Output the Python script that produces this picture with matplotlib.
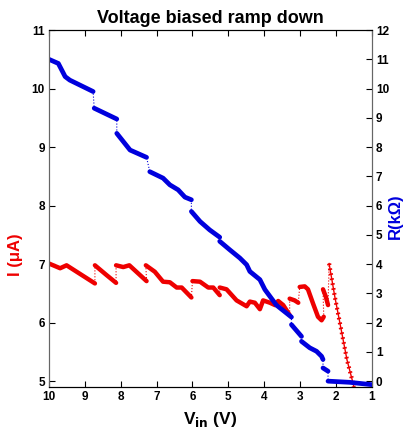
import numpy as np
import matplotlib
matplotlib.use("Agg")
import matplotlib.pyplot as plt

plt.rcParams['font.family'] = ['Liberation Sans', 'DejaVu Sans']
plt.rcParams['font.weight'] = 'bold'

# current (left axis), segment starts in red_breaks
red_v = [10.0, 9.69, 9.51, 9.23, 9.0, 8.72,
         8.72, 8.39, 8.13,
         8.13, 7.93, 7.76, 7.28,
         7.30, 7.05, 6.82, 6.63, 6.44, 6.30, 6.03,
         6.00, 5.79, 5.56, 5.42, 5.24,
         5.24, 5.05, 4.77, 4.49, 4.40, 4.26, 4.12, 4.03, 3.84, 3.70, 3.61, 3.47, 3.29,
         3.29, 3.15, 3.05,
         3.01, 2.87, 2.78, 2.64, 2.50, 2.40, 2.34,
         2.36, 2.28, 2.22]
red_i = [7.01, 6.93, 6.98, 6.87, 6.78, 6.67,
         6.98, 6.81, 6.68,
         6.98, 6.95, 6.98, 6.71,
         6.98, 6.87, 6.70, 6.69, 6.60, 6.60, 6.43,
         6.71, 6.70, 6.60, 6.60, 6.47,
         6.60, 6.57, 6.38, 6.28, 6.36, 6.34, 6.23, 6.38, 6.34, 6.30, 6.37, 6.30, 6.13,
         6.41, 6.38, 6.34,
         6.61, 6.62, 6.57, 6.33, 6.10, 6.04, 6.10,
         6.57, 6.44, 6.30]
red_breaks = [6, 9, 13, 20, 25, 38, 41, 48]

# last steep branch of the current
drop_v = [2.19, 2.03, 1.85, 1.69, 1.52, 1.50]
drop_i = [7.01, 6.44, 5.87, 5.36, 4.96, 4.90]

# resistance (right axis)
blue_v = [10.0, 9.74, 9.55, 9.42, 8.77,
          8.74, 8.11,
          8.11, 7.74, 7.28,
          7.19, 6.82, 6.63, 6.40, 6.21, 6.03,
          6.03, 5.79, 5.52, 5.24,
          5.24, 4.96, 4.68, 4.49, 4.40, 4.12, 3.98, 3.66, 3.24,
          3.24, 2.96,
          2.96, 2.73, 2.54, 2.40, 2.36,
          2.36, 2.22,
          2.22, 1.62, 1.00]
blue_r = [11.0, 10.86, 10.41, 10.29, 9.90,
          9.33, 8.96,
          8.47, 7.90, 7.65,
          7.16, 6.94, 6.71, 6.54, 6.29, 6.20,
          5.80, 5.46, 5.17, 4.92,
          4.78, 4.49, 4.21, 3.98, 3.75, 3.47, 3.13, 2.60, 2.19,
          1.93, 1.53,
          1.36, 1.14, 1.02, 0.85, 0.74,
          0.45, 0.34,
          0.00, -0.04, -0.12]
blue_breaks = [5, 7, 10, 16, 20, 29, 31, 36, 38]

fig = plt.figure(figsize=(4.05, 4.3), dpi=100)
ax = fig.add_axes([0.121, 0.1, 0.797, 0.83])
ax2 = ax.twinx()

red = '#ee0000'
blue = '#0000dd'

# dotted links between all points, then the dense segments on top
ax.plot(red_v, red_i, ':', color=red, lw=0.8)
for sv, si in zip(np.split(red_v, red_breaks), np.split(red_i, red_breaks)):
    ax.plot(sv, si, '-', color=red, lw=3.2, solid_capstyle='round')
ax.plot([red_v[-1], drop_v[0]], [red_i[-1], drop_i[0]], ':', color=red, lw=0.8)
ax.plot(drop_v, drop_i, '-', color=red, lw=1.0)
ax.plot(drop_v, drop_i, color=red, lw=3.0, linestyle=(0, (0.4, 0.8)))

ax2.plot(blue_v, blue_r, ':', color=blue, lw=0.8)
for sv, sr in zip(np.split(blue_v, blue_breaks), np.split(blue_r, blue_breaks)):
    ax2.plot(sv, sr, '-', color=blue, lw=3.4, solid_capstyle='round')

ax.set_xlim(10, 1)
ax.set_ylim(4.9, 11)
ax2.set_ylim(-0.2, 12)
ax.set_xticks(range(1, 11))
ax.set_yticks(range(5, 12))
ax2.set_yticks(range(0, 13))

ax.tick_params(axis='both', direction='in', length=4, labelsize=8.5, pad=3,
               top=True, right=False)
ax2.tick_params(axis='y', direction='in', length=4, labelsize=8.5, pad=3)
for a in (ax, ax2):
    a.spines['left'].set_color('#666666')
    a.spines['right'].set_color('#666666')
    a.spines['top'].set_color('black')
    a.spines['bottom'].set_color('black')

ax.set_title('Voltage biased ramp down', fontsize=13, fontweight='bold', pad=5)
ax.set_xlabel(r'V$_{\mathbf{in}}$ (V)', fontsize=12.5, fontweight='bold')
ax.xaxis.set_label_coords(0.5, -0.065)
ax.set_ylabel('I (μA)', fontsize=12, fontweight='bold', color=red)
ax.yaxis.set_label_coords(-0.08, 0.37)
ax2.set_ylabel('R(kΩ)', fontsize=12, fontweight='bold', color=blue)
ax2.yaxis.set_label_coords(1.05, 0.48)

fig.savefig('out.png', dpi=100)
